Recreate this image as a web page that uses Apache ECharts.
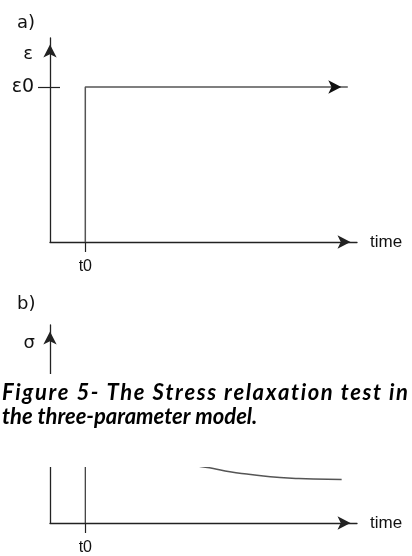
<!DOCTYPE html>
<html>
<head>
<meta charset="utf-8">
<script src="https://cdn.jsdelivr.net/npm/echarts@6/dist/echarts.min.js"></script>
<style>
  html, body { margin: 0; padding: 0; background: #fff; }
  #chart { width: 412px; height: 556px; }
</style>
</head>
<body>
<div id="chart"></div>
<script>
// time runs 0..100 on both panels, t0 is where the step happens
const t0 = 11.5
const eps0 = 76
const timeTicks = [t0]
const strainTicks = [eps0]

// a) strain step [time, strain]
const strainStep = [[11.5, 0], [11.5, 76], [97, 76]]

// b) stress, only the tail under the caption is visible
const t0Line = [[11.5, 0], [11.5, 60]]
const stressTail = [[44, 31], [47.2, 29.2], [53.2, 27.5], [58.6, 25.9], [64.1, 24.7],
  [69.5, 23.7], [74.9, 23.0], [80.4, 22.5], [85.8, 22.2], [95.0, 22.0]]

const captionLines = ['Figure 5- The Stress relaxation test in', 'the three-parameter model.']

const axisColor = '#222'
const lineColor = '#555'
const captionFont = 'italic bold 22px Lato'
const arrowLine = {
  show: true,
  lineStyle: { color: axisColor, width: 1.3 },
  symbol: ['none', 'arrow'],
  symbolSize: [10, 13],
  symbolOffset: [0, -6.5]
}

// first caption line fills the width: spread the extra room over the letters
const spreadLine = function (line, left, right, top) {
  let ctx = document.createElement('canvas').getContext('2d')
  ctx.font = captionFont
  let chars = line.split('')
  let widths = chars.map(c => ctx.measureText(c).width)
  let total = widths.reduce((a, b) => a + b, 0)
  let extra = Math.max(0, (right - left - total) / (chars.length - 1))
  let x = left
  let out = []
  chars.forEach((c, i) => {
    if (c !== ' ') {
      out.push({ type: 'text', x: x, y: top, z: 101, style: { text: c, font: captionFont, fill: '#000' } })
    }
    x += widths[i] + extra
  })
  return out
}

// x axis with a single t0 tick
const timeAxis = function (gridIndex) {
  return {
    gridIndex: gridIndex,
    type: 'value',
    min: 0,
    max: 100,
    name: 'time',
    nameLocation: 'end',
    nameGap: 13,
    nameTextStyle: { fontFamily: 'Liberation Sans', fontSize: 17, color: '#111', align: 'left', verticalAlign: 'middle' },
    axisLine: arrowLine,
    axisTick: { show: true, customValues: timeTicks, length: 10, lineStyle: { color: axisColor, width: 1.2 } },
    axisLabel: {
      show: true,
      customValues: timeTicks,
      formatter: () => 't0',
      margin: 17,
      fontFamily: 'Liberation Sans',
      fontSize: 16,
      color: '#111'
    },
    splitLine: { show: false }
  }
}

const nameStyle = function (padRight) {
  return {
    fontFamily: 'DejaVu Sans',
    fontSize: 18,
    color: '#111',
    align: 'right',
    verticalAlign: 'middle',
    padding: [0, padRight, 0, 0]
  }
}

let myChart = echarts.init(document.getElementById('chart'))
let option = {
  animation: false,
  backgroundColor: '#fff',
  grid: [
    { left: 50, right: 55, top: 38, bottom: 314 },
    { left: 50, right: 55, top: 325, bottom: 30 }
  ],
  xAxis: [timeAxis(0), timeAxis(1)],
  yAxis: [
    {
      gridIndex: 0,
      type: 'value',
      min: 0,
      max: 100,
      name: 'ε',
      nameLocation: 'end',
      nameGap: -16,
      nameTextStyle: nameStyle(17),
      axisLine: arrowLine,
      axisTick: { show: true, customValues: strainTicks, length: 12, lineStyle: { color: axisColor, width: 1.2 } },
      axisLabel: {
        show: true,
        customValues: strainTicks,
        formatter: () => 'ε0',
        margin: 16,
        fontFamily: 'DejaVu Sans',
        fontSize: 19,
        color: '#111'
      },
      splitLine: { show: false }
    },
    // second axis only to draw the inner half of the ε0 tick
    {
      gridIndex: 0,
      type: 'value',
      position: 'left',
      offset: 0,
      min: 0,
      max: 100,
      axisLine: { show: false },
      axisTick: { show: true, inside: true, customValues: strainTicks, length: 10, lineStyle: { color: axisColor, width: 1.2 } },
      axisLabel: { show: false },
      splitLine: { show: false }
    },
    {
      gridIndex: 1,
      type: 'value',
      min: 0,
      max: 100,
      name: 'σ',
      nameLocation: 'end',
      nameGap: -18,
      nameTextStyle: nameStyle(15),
      axisLine: arrowLine,
      axisTick: { show: false },
      axisLabel: { show: false },
      splitLine: { show: false }
    }
  ],
  series: [
    {
      type: 'line',
      xAxisIndex: 0,
      yAxisIndex: 0,
      symbol: 'none',
      showSymbol: true,
      lineStyle: { color: lineColor, width: 1.5 },
      itemStyle: { color: '#111' },
      data: strainStep.map((p, i) => i === strainStep.length - 1
        ? { value: p, symbol: 'arrow', symbolSize: [10, 13], symbolRotate: -90, symbolOffset: [-6.5, 0] }
        : { value: p })
    },
    {
      type: 'line',
      xAxisIndex: 1,
      yAxisIndex: 2,
      symbol: 'none',
      lineStyle: { color: '#333', width: 1.2 },
      data: t0Line
    },
    {
      type: 'line',
      xAxisIndex: 1,
      yAxisIndex: 2,
      symbol: 'none',
      smooth: true,
      lineStyle: { color: lineColor, width: 1.5 },
      data: stressTail
    }
  ],
  graphic: [
    { type: 'text', left: 17, top: 14, z: 100, style: { text: 'a)', font: '18px "DejaVu Sans"', fill: '#111' } },
    { type: 'text', left: 17, top: 295, z: 100, style: { text: 'b)', font: '18px "DejaVu Sans"', fill: '#111' } },
    // caption sits on a white box that hides the middle of panel b
    { type: 'rect', left: 0, top: 374, z: 100, shape: { width: 412, height: 93 }, style: { fill: '#fff' } }
  ].concat(spreadLine(captionLines[0], 2, 408, 382))
    .concat([{ type: 'text', x: 2, y: 406, z: 101, style: { text: captionLines[1], font: captionFont, fill: '#000' } }])
}
myChart.setOption(option)
</script>
</body>
</html>
